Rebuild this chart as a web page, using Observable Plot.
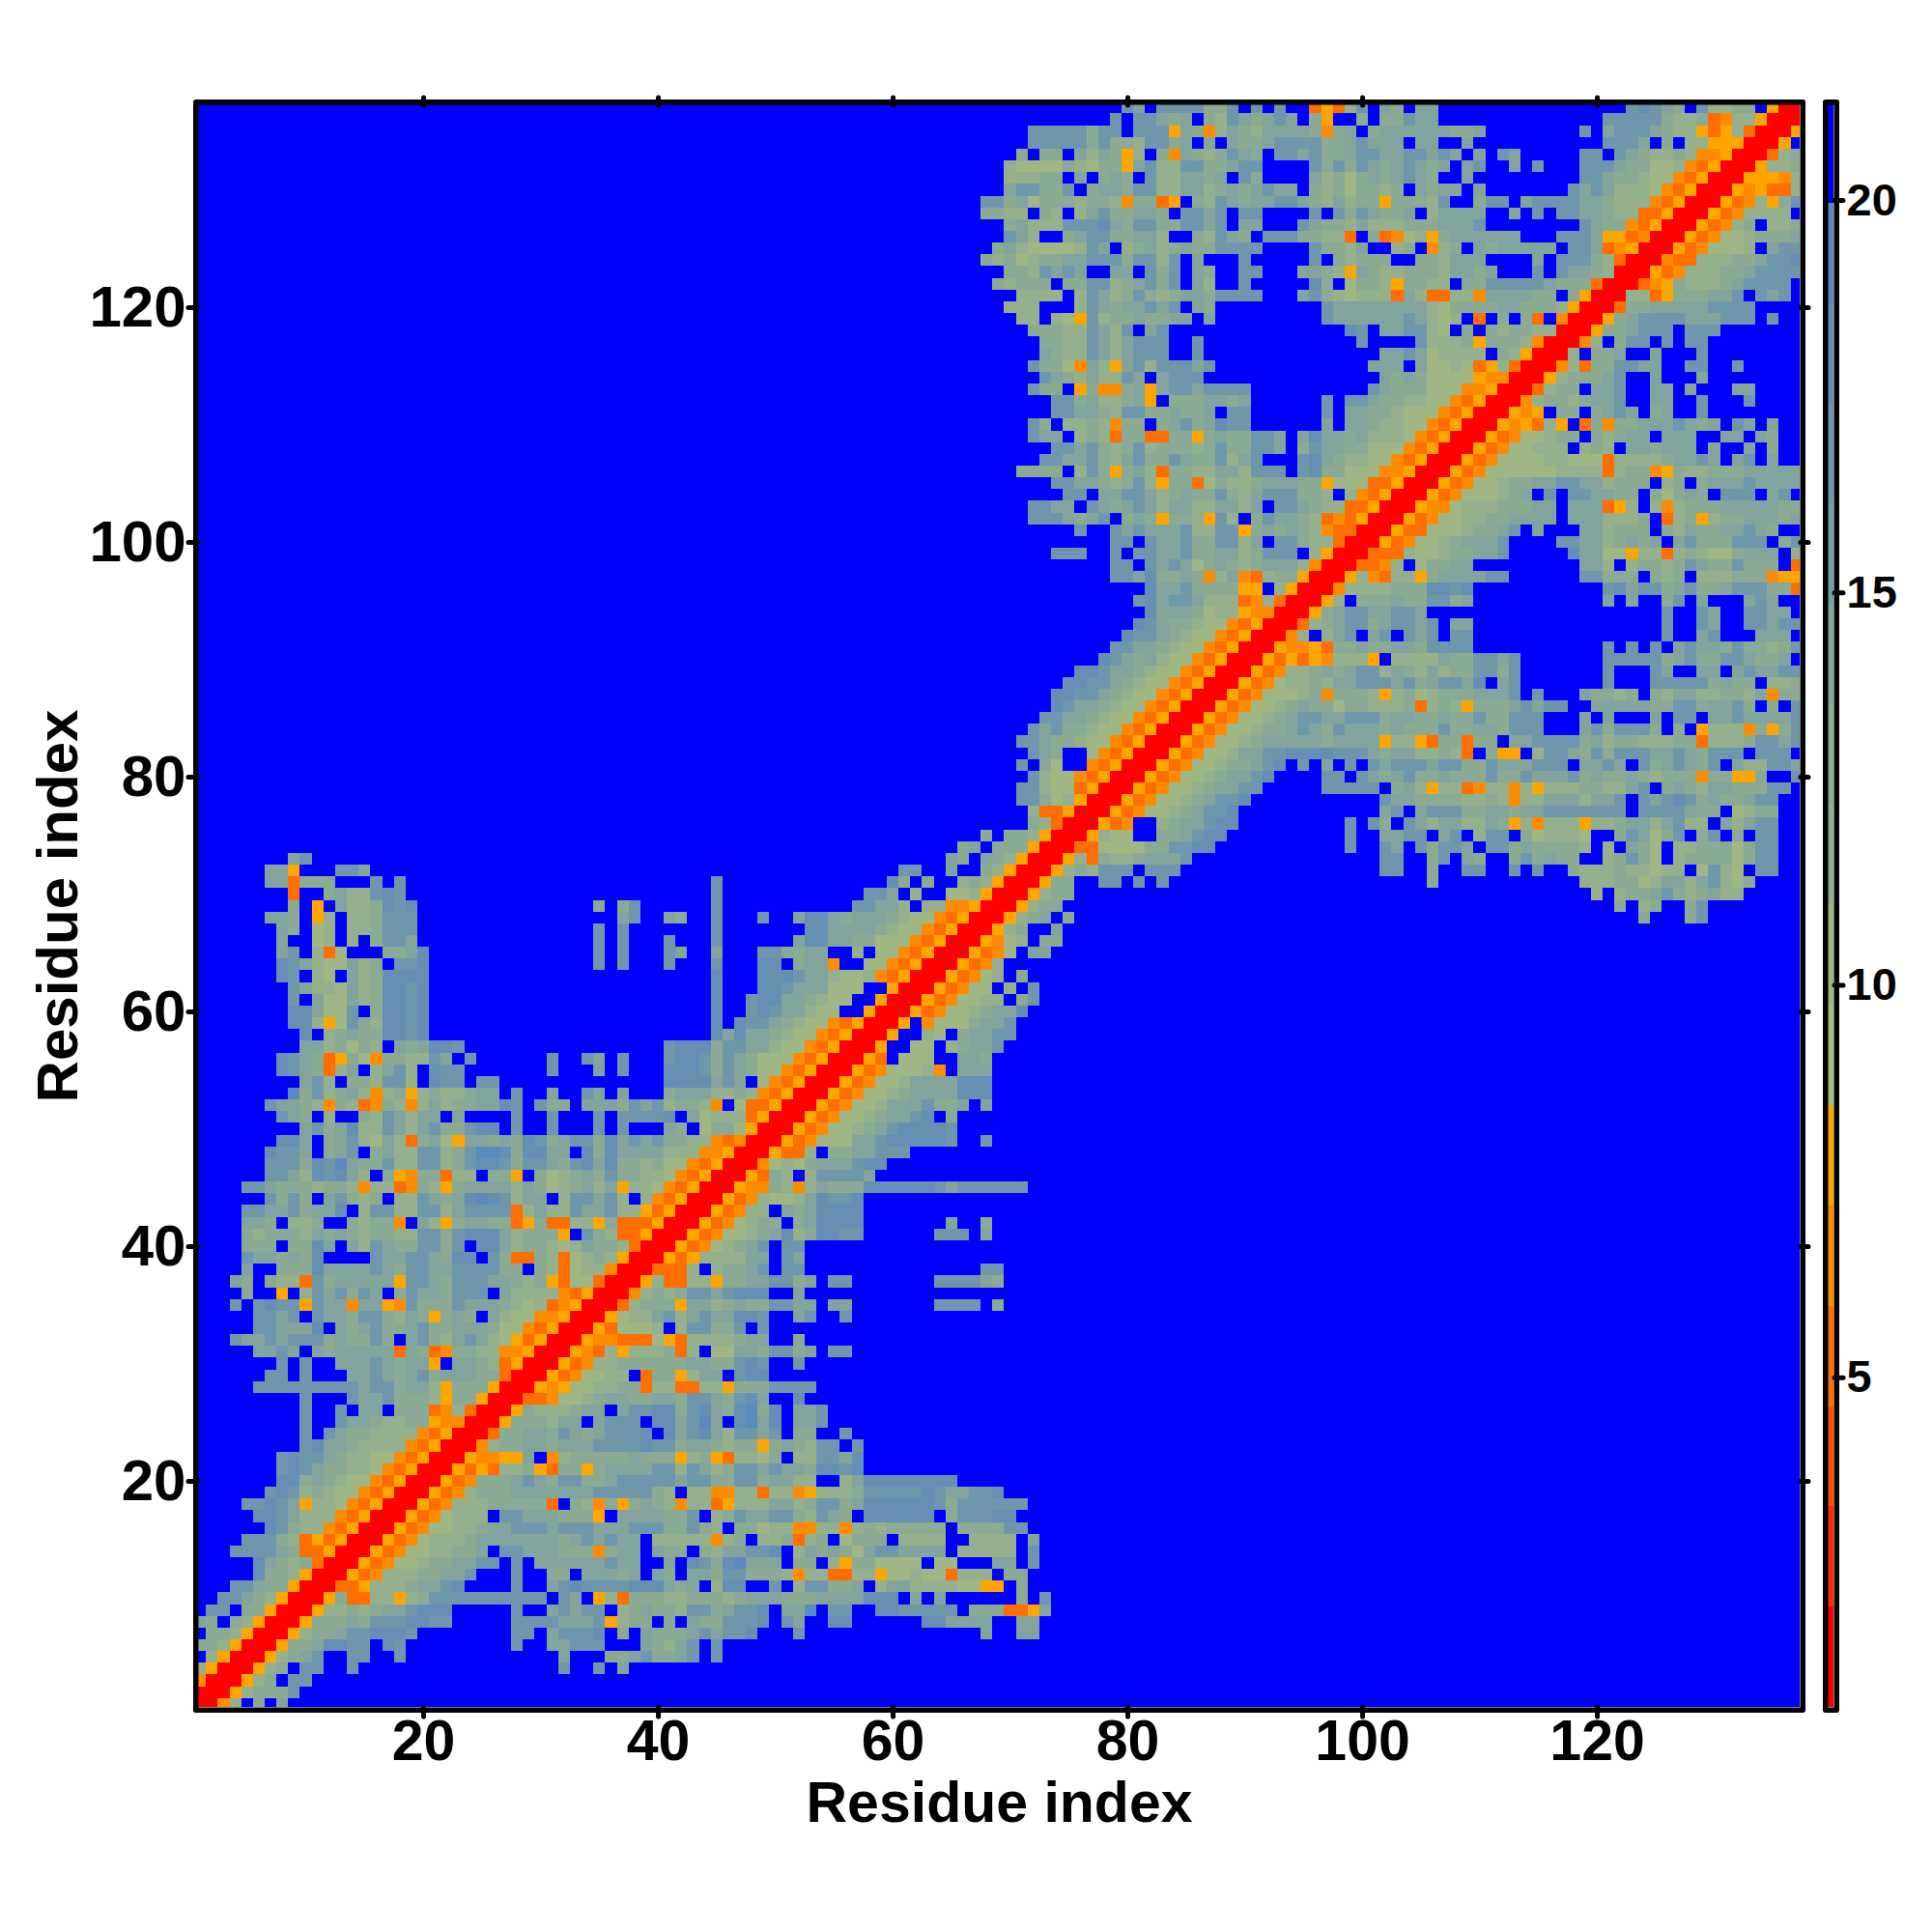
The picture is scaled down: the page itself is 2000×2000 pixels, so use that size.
<!DOCTYPE html>
<html>
<head>
<meta charset="utf-8">
<script src="https://cdn.jsdelivr.net/npm/d3@7"></script>
<script src="https://cdn.jsdelivr.net/npm/@observablehq/plot@0.6"></script>
<style>
html,body{margin:0;padding:0;background:#fff}
#stage{position:relative;width:2000px;height:2000px}
#stage svg{position:absolute;top:0;font-family:"Liberation Sans",Arial,sans-serif}
</style>
</head>
<body>
<div id="stage"></div>
<script>
// Distance-map bands, bottom to top of the colour bar
const bandEdges = [0.8,2.08,3.36,4.63,5.91,7.19,8.47,9.75,11.03,12.3,13.58,14.86,16.14,17.42,18.69,19.97,21.22];
const bandColors = ["#ff0000","#ff2a00","#ff5000","#ff6e00","#ff8c00","#ffa500",
  "#a8bd7c","#9eb784","#95b08c","#8baa94","#82a49c","#789da4","#6f97ac","#6590b4","#5c8abc","#0000ff"];
// Value read for each code letter in the table below
const codeValues = {R:1.4,o:5.3,m:6.5,y:7.8,"1":10.4,"2":11.7,"3":13,"4":14.2,"5":16.8,"6":18,"7":19.3,".":20.6};
const residueTicks = [20,40,60,80,100,120];
const barTicks = [5,10,15,20];
// One line per residue (symmetric map, upper part): "column:codes", unlisted cells are blue.
const rows = [
"1:RRm2.3.4",
"2:RRy23335",
"3:RRy23.55",
"4:RRy23.55 14:5 32:5 35:5 37:4",
"5:RRy2345 14:55 18:5 32:4 36:33453345 45:5",
"6:RRy3346655 17:65 28:5 31:44555 39:43245 45:5",
"7:RRy2334556665 28:55 31:45556 37:3 39:4333454556 52:5 68:4 71:44",
"8:RRy333435556655 28:55554445y233 41:3 43:4335556 51:54 55:66 63:664444 71:44",
"9:RRy22323445666 28:5 31:45455 37:2343325534556 51:44 53:7 55:55 59:6655555 67:333ooy4",
"10:RRy3oo22y23 5555555555 32:54 35:y2o333 41:22333234443334444 58:666 62:4 64:4 71:3 73:5",
"11:RRooy22234456 28:5 31:4565555666 41:434 45:266 50:5 52:255334 59:244222211yy 71:3",
"12:RRyom22233445 28:5 31:33 34:44434 40:43 43:443553332m22oo22y11211o222 70:33",
"13:RRyom112334455 28:5 30:444444544 41:4 43:65367444 52:33 55:2y331111 64:11 69:44 72:5",
"14:RRyom1122334 27:55444333m344 40:433 44:3244556 52:243431 58:4554444 66:22222 72:5",
"15:RRyom 12223 4444444 3454544 40:22222m23 49:223o23 56:1333 61:2222 67:2222 72:4",
"16:RRyom1122 344555455544 4555 33532 47:33122mm22m23 2 33333 66:333355",
"17:RRyom1222 27:55444333y 37:4444335 45:235445532543 58:666666 65:355566",
"18:RRyom22233333o 33:32m3y3432m22oy22244235534 58:6666665 3 555555",
"19:RRyom 2333 4444444 55555 32 43:22mm22o22my222 3 55555 6 5 44 556",
"20:RRyom 333 4543 55 334 555 55 4 55 33 55 344 22 56:24 66666666",
"21:RRyoyo223yo33y34444 40:552542355454436656",
"22:RRymmyy4 31:m2333334333y23yo2213 52:225546",
"23:RRm23344344455556553443233y343255 57:5",
"24:RRo3344354345556 41:6456425545 52:33 56:5",
"25:RRy333244 35:4555 40:664574 47:6746 52:445",
"26:RRy3222344 37:45566356436736 52:445",
"27:RRoom 1123 44 33 44 3 55 43 564 52:6",
"28:RRymy112233o22oo22y3335555",
"29:RRyom1122 39:o33y244 47:566",
"30:RRyom 22 333333 44 33 565 52:5",
"31:RRymo2y2223o2 45:114435534 55:55",
"32:RRymmooo1yo2222344 52:3",
"33:RRyo1112 42:255335 49:5",
"34:RRy1224524544665 52:45 56:5",
"35:RRo2333y44234335544 55:44 64:5555 69:3",
"36:RRm23235545666 52:4",
"37:RRy2oo22y33445534 55:55 64:555543",
"38:RRooo2 45:23345 51:55 68:55",
"39:RRyoy222244 51:54",
"40:RRyom12345 51:55",
"41:RRyom112346236655 64:555 68:4",
"42:RRyom1233 52:346666 65:4 68:3",
"43:RRyom22 51:4346666",
"44:RRyom211246556",
"45:RRymm32m24333 666666 5 4 555555",
"46:RRyo32 53:255554",
"47:RRm12134445 66",
"48:RRyoo2 55:3344555",
"49:RRyom111445666665 68:5",
"50:RRyom11234566665",
"51:RRyom11234456 65:3",
"52:RRyom1124445334 68:4",
"53:RRyom11234444666",
"54:RRyom1124444666",
"55:RRyom1112m 66:444",
"56:RRyo 61:111 66:443",
"57:RRy 62:11 65:23445",
"58:RRy 63:21 66:34455",
"59:RRy 63:m1113445",
"60:RRyom1123446",
"61:RRyom1122 71:35",
"62:RRyom11 70:2 72:5",
"63:RRyom12 71:3",
"64:RRyom2",
"65:RRyom1 72:44",
"66:RRym12 73:33",
"67:RRy23 74:4",
"68:RRy234 75:3 124:3 128:35",
"69:RRy233 122:3 124:23 128:35",
"70:RRy233 120:2 122:23345323422",
"71:RRy33 78:55 81:5 83:5 106:3 119:222331244245213",
"72:RRy232555 82:555 102:55 106:3 109:55 113:5 115:5 118:3222322122 129:1521 134:55",
"73:RRy2o32234445 102:55 106:35 109:43 113:353433 121:23531 127:233331355",
"74:RRoo11113355 66 99:5 102:54 105:53554 111:553433332 121:2 123:431 127:223331355",
"75:RRy211 83:334566 99:5 102:4455 107:45 110:255 114:312221 122:354135 129:35 132:3 134:55",
"76:RRyom 83:2344566 99:5 101:53 104:542442243y2m222y2234424522 131:42455",
"77:RRyom11234556 102:45 105:45553344344 5555555 124:5555433 132:1233",
"78:RRyom11234556 102:54433332232m224442445 124:545653433455",
"79:RRyom11234455 97:55555 103:342y22om22m2y222332245 126:34324433355",
"80:RRyom11234456 97:55 100:54 102:345334333533544453433432333m33yy3 137:5",
"81:RRyom11233456 95:5 97:4 99:5 101:54555455335444555 119:4454 124:5345435 132:422554",
"82:RRyom112 445566665554 3442232o 111:3yy 115:255435355544543555 134:555",
"83:RRyom112 3444443444 4 y22yo33o33 113:4455553423322233o22235545",
"84:RRyom112 33454354443 43 33 5334 435 55 119:4535553 127:3 129:y222m3y35",
"85:RRyom112 3455445553 443 3433 5335 55 119:4 121:4 125:4 127:55 130:44544445",
"86:RRyom112 343313322 23o232y 3334 5455 120:44444335534453 135:3 137:5",
"87:RRyom11123m3332y 231233 34445 115:5 119:43323 125:3244223324m33",
"88:RRyom 1223244555 453 4554 6 112:45 121:5 125:55 127:5553433 135:223",
"89:RRyom 223434552 432 4233 5535 121:5 125:54 129:44 132:454455",
"90:RRyoyoym222y 103:22224335545 121:5555534533554334",
"91:RRymmyo334334435555 121:5 123:5 125:5 127:45443533235",
"92:RRm2 97:245 101:45 104:545 108:55 126:5 129:45 134:444",
"93:RRo23455345545 108:44 126:5 129:54 133:55455",
"94:RRy345544554 126:5 129:54 133:5544",
"95:RRy2 100:3334335534 121:4 123:4 126:35 129:4 133:454",
"96:RRm22223336656 121:5645534533455533o",
"97:RRy2mo22y3444455 119:55333 125:323 129:222333myy",
"98:RRoom2 105:13344 119:442 123:2332354335333 137:o",
"99:RRooo211233445 118:64411y22o232113444 137:2",
"100:RRyom11234445 117:554423434 127:45333555 136:35",
"101:RRyoo11123345 115:4 119:442333 126:3243344543",
"102:RRyom1122334444 118:4442223 126:o23y23344434",
"103:RRymm122233344 118:444oy2 125:2m23334444433",
"104:RRyom111234 116:5 118:554433 125:31343 131:555 135:45",
"105:RRyom 1123344 5544 2333 126:23 129:344454444",
"106:RRyom 111111222 2 o 233 my 322 33344444",
"107:RRyom 111122111 o 2 222 3445 4 132:45 135:4",
"108:RRyom11222 119:232 123:443444 130:4 133:4 135:3",
"109:RRyom11233 120:32344 126:444 131:44 134:43",
"110:RRymyo2y 119:o3m334445434 132:54 135:4",
"111:RRymy 117:33 120:3454 125:34 129:5",
"112:RRm23323445 125:44 129:5 133:5",
"113:RRo233 120:445 125:44 128:4 132:44",
"114:RRy233345 125:4 129:4",
"115:RRm2o335544 128:55 132:5",
"116:RR2 120:334 125:4 129:5",
"117:RRm2 122:355 126:5 128:55",
"118:RRy334555 128:555",
"119:RRy345555444555 135:5",
"120:RRo33444445555",
"121:RR22oy333445 134:545",
"122:RRomy3222345555",
"123:RRyom2223345555",
"124:RRmoo222334556",
"125:RRyom1112 135:455",
"126:RRyom1123334",
"127:RRyom23 135:223",
"128:RRyom2222",
"129:RRyom2y35",
"130:RRymyoo2",
"131:RRyyym2",
"132:RRy223",
"133:RRo23",
"134:RRy",
"135:RRy",
"136:RR",
"137:R"
];

// Expand the table into a full symmetric list of cells
const n = rows.length;
const codeAt = new Map();
rows.forEach((line, ri) => {
  let col = ri + 1;
  for (let token of line.split(" ")) {
    if (token.includes(":")) { const [p, s] = token.split(":"); col = +p; token = s; }
    for (const ch of token) {
      codeAt.set((ri + 1) + "," + col, ch);
      codeAt.set(col + "," + (ri + 1), ch);
      col++;
    }
  }
});
const residues = d3.range(1, n + 1);
const cells = residues.flatMap(r => residues.map(c => ({
  x: c, y: r, v: codeValues[codeAt.get(r + "," + c) ?? "."]
})));
const bands = bandColors.map((_, i) => ({lo: bandEdges[i], hi: bandEdges[i + 1], v: (bandEdges[i] + bandEdges[i + 1]) / 2}));
const colorScale = {type: "threshold", domain: bandEdges.slice(1, -1), range: bandColors};
const ink = {stroke: "black", strokeWidth: 5, strokeLinecap: "round"};

const main = Plot.plot({
  width: 2000, height: 2000,
  marginTop: 108, marginBottom: 233, marginLeft: 205, marginRight: 137,
  x: {domain: [0.82, 137.28], label: null},
  y: {domain: [0.74, 137.28], label: null},
  color: colorScale,
  marks: [
    Plot.rect(cells, {x1: d => d.x - 0.5, x2: d => d.x + 0.5, y1: d => d.y - 0.5, y2: d => d.y + 0.5,
      fill: "v", clip: true, shapeRendering: "crispEdges"}),
    Plot.axisX(residueTicks, {anchor: "top", tickSize: 8, tickFormat: () => "", ...ink}),
    Plot.axisY(residueTicks, {anchor: "right", tickSize: 8, tickFormat: () => "", ...ink}),
    Plot.axisX(residueTicks, {anchor: "bottom", tickSize: 10, tickPadding: 3, fontSize: 59, fontWeight: "bold", ...ink}),
    Plot.axisY(residueTicks, {anchor: "left", tickSize: 10, tickPadding: 3, fontSize: 60, fontWeight: "bold", ...ink}),
    Plot.frame({inset: -2.75, stroke: "black", strokeWidth: 5.5, strokeLinejoin: "round"}),
    Plot.text(["Residue index"], {frameAnchor: "bottom", dy: 118, lineAnchor: "bottom", fontSize: 59, fontWeight: "bold", fill: "black"}),
    Plot.text(["Residue index"], {frameAnchor: "left", textAnchor: "middle", dx: -145, rotate: -90, fontSize: 60, fontWeight: "bold", fill: "black"})
  ]
});
main.style.left = "0px";

const bar = Plot.plot({
  width: 140, height: 2000,
  marginTop: 108, marginBottom: 233, marginLeft: 32, marginRight: 102,
  x: {domain: [0, 1], axis: null},
  y: {domain: [bandEdges[0], bandEdges[bandEdges.length - 1]], label: null, axis: null},
  color: colorScale,
  marks: [
    Plot.rect(bands, {x1: 0, x2: 1, y1: "lo", y2: "hi", fill: "v", shapeRendering: "crispEdges"}),
    Plot.axisY(barTicks, {anchor: "right", tickSize: 9, tickPadding: 4, fontSize: 47, fontWeight: "bold", tickFormat: d3.format("d"), ...ink}),
    Plot.frame({inset: -2.75, stroke: "black", strokeWidth: 5.5, strokeLinejoin: "round"})
  ]
});
bar.style.left = "1860px";

const stage = document.getElementById("stage");
stage.append(main, bar);
</script>
</body>
</html>
